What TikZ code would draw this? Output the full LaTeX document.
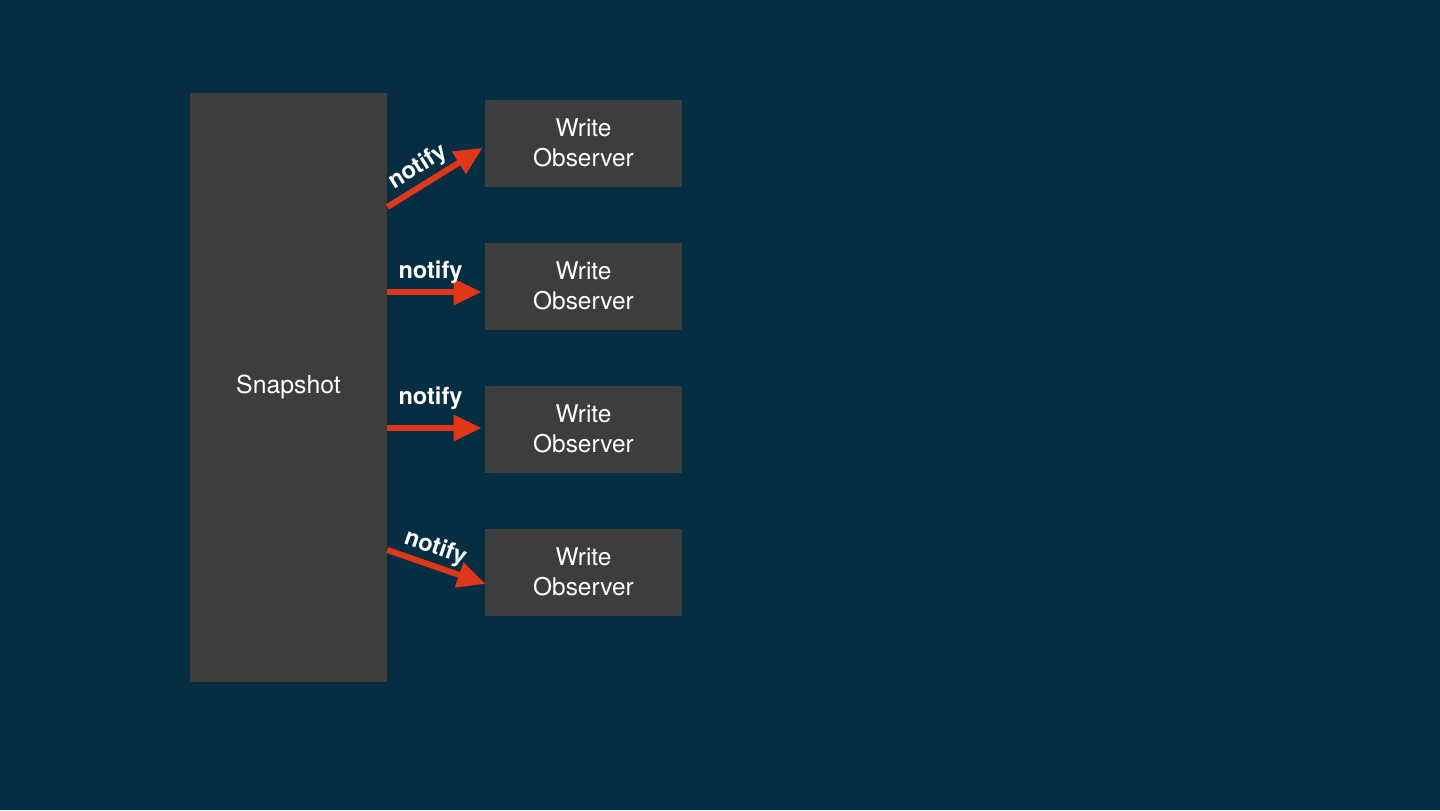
\documentclass[tikz,border=0pt]{standalone}
\usepackage{fontspec}
\setmainfont{TeX Gyre Heros}
\usetikzlibrary{arrows.meta}
\definecolor{bgblue}{RGB}{6,46,66}
\definecolor{boxgray}{RGB}{61,61,61}
\definecolor{notifyred}{RGB}{224,54,26}

\begin{document}
\begin{tikzpicture}[x=0.5pt,y=-0.5pt,
  box/.style={fill=boxgray, inner sep=0pt, minimum width=98.5pt, minimum height=43.5pt,
    text=white, align=center, font=\fontsize{12.2}{15}\selectfont},
  arr/.style={-{Triangle[length=14pt, width=12.5pt]}, line width=3pt, draw=notifyred},
  lbl/.style={text=white, font=\fontsize{11.8}{14}\selectfont\bfseries, inner sep=1.5pt}]
\fill[bgblue] (0,0) rectangle (1440,810);
\useasboundingbox (0,0) rectangle (1440,810);
\node[box, minimum height=294.5pt, font=\fontsize{12.4}{15}\selectfont] (snap) at (288.5,387) {Snapshot};
\node[box] (obs1) at (583.5,143) {Write\\Observer};
\node[box] (obs2) at (583.5,286) {Write\\Observer};
\node[box] (obs3) at (583.5,429) {Write\\Observer};
\node[box] (obs4) at (583.5,572) {Write\\Observer};
\draw[arr] (snap.east |- 0,207) -- ([xshift=-1pt,yshift=-2.5pt]obs1.west)
  node[lbl, pos=0.42, sloped, above] {notify};
\draw[arr] (snap.east |- 0,292) -- ([xshift=-1.5pt]obs2.west |- 0,292)
  node[lbl, midway, above=1pt, xshift=-2pt] {notify};
\draw[arr] (snap.east |- 0,428) -- ([xshift=-1.5pt]obs3.west |- 0,428)
  node[lbl, midway, above=6pt, xshift=-2pt] {notify};
\draw[arr] (snap.east |- 0,550) -- ([xshift=0.5pt,yshift=-6pt]obs4.west)
  node[lbl, pos=0.43, sloped, above] {notify};
\end{tikzpicture}
\end{document}
